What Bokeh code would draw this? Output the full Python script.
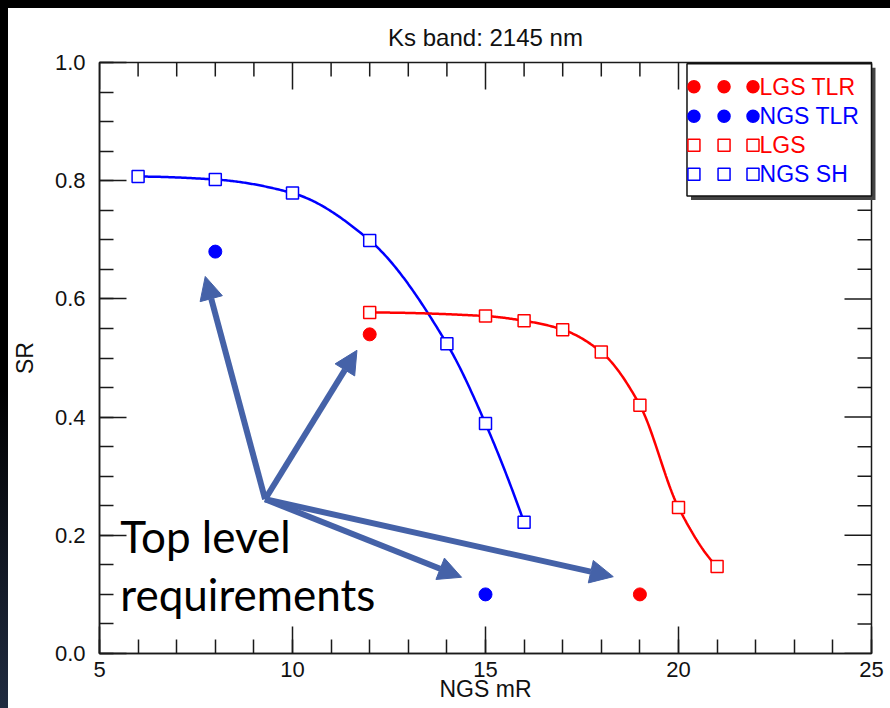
import numpy as np
from bokeh.plotting import figure
from bokeh.models import (Range1d, LinearAxis, SingleIntervalTicker, PrintfTickFormatter,
                          Arrow, NormalHead, Label, ColumnDataSource)
from bokeh.core.properties import value
from bokeh.embed import file_html
from bokeh.resources import INLINE

# ---------------- data ----------------
title = "Ks band: 2145 nm"
x_label = "NGS mR"
y_label = "SR"

ngs_sh_x = [6, 8, 10, 12, 14, 15, 16]
ngs_sh_y = [0.807, 0.802, 0.779, 0.699, 0.524, 0.389, 0.222]

lgs_x = [12, 15, 16, 17, 18, 19, 20, 21]
lgs_y = [0.577, 0.571, 0.563, 0.548, 0.510, 0.420, 0.247, 0.147]

lgs_tlr_x = [12, 19]
lgs_tlr_y = [0.54, 0.10]

ngs_tlr_x = [8, 15]
ngs_tlr_y = [0.68, 0.10]

legend_labels = ["LGS TLR", "NGS TLR", "LGS", "NGS SH"]
legend_colors = ["#ff0000", "#0000ff", "#ff0000", "#0000ff"]
legend_markers = ["circle", "circle", "square", "square"]

note_text = ["Top level", "requirements"]

# ---------------- layout constants ----------------
RED = "#ff0000"
BLUE = "#0000ff"
ARROW_C = "#4562a8"
AX_C = "#1a1a1a"
FONT = "Liberation Sans"
X0, X1, Y0, Y1 = 5, 25, 0.0, 1.0

# arrow annotations (start -> tip), in data units
arrow_start = (9.29, 0.261)
arrow_tips = [(7.74, 0.638), (11.67, 0.513), (14.38, 0.129), (18.31, 0.130)]

# legend layout (data units)
leg_left, leg_right, leg_top, leg_bottom = 20.22, 25.0, 0.998, 0.774
leg_marker_x = [20.40, 21.18, 21.93]
leg_text_x = 22.10
leg_row_y = [0.959, 0.909, 0.860, 0.811]


def pchip(x, y, n=300):
    x = np.asarray(x, float)
    y = np.asarray(y, float)
    h = np.diff(x)
    d = np.diff(y) / h
    m = np.zeros_like(y)
    for k in range(1, len(x) - 1):
        if d[k - 1] * d[k] <= 0:
            m[k] = 0.0
        else:
            w1 = 2 * h[k] + h[k - 1]
            w2 = h[k] + 2 * h[k - 1]
            m[k] = (w1 + w2) / (w1 / d[k - 1] + w2 / d[k])
    m[0] = ((2 * h[0] + h[1]) * d[0] - h[0] * d[1]) / (h[0] + h[1])
    if np.sign(m[0]) != np.sign(d[0]):
        m[0] = 0
    m[-1] = ((2 * h[-1] + h[-2]) * d[-1] - h[-1] * d[-2]) / (h[-1] + h[-2])
    if np.sign(m[-1]) != np.sign(d[-1]):
        m[-1] = 0
    xs = np.linspace(x[0], x[-1], n)
    idx = np.clip(np.searchsorted(x, xs) - 1, 0, len(x) - 2)
    t = (xs - x[idx]) / h[idx]
    h00 = 2 * t**3 - 3 * t**2 + 1
    h10 = t**3 - 2 * t**2 + t
    h01 = -2 * t**3 + 3 * t**2
    h11 = t**3 - t**2
    ys = h00 * y[idx] + h10 * h[idx] * m[idx] + h01 * y[idx + 1] + h11 * h[idx] * m[idx + 1]
    return xs, ys


p = figure(width=882, height=700, output_backend="svg", toolbar_location=None,
           x_range=Range1d(X0, X1), y_range=Range1d(Y0, Y1),
           x_axis_location=None, y_axis_location=None)
p.min_border = 0
p.min_border_left = 89
p.min_border_right = 19
p.min_border_top = 54
p.min_border_bottom = 55
p.xgrid.visible = False
p.ygrid.visible = False
p.background_fill_color = "white"
p.border_fill_color = "white"
p.outline_line_color = AX_C
p.outline_line_width = 1.5

p.title.text = title
p.title.align = "center"
p.title.text_font = FONT
p.title.text_font_size = "24px"
p.title.text_font_style = "normal"
p.title.text_color = "#111111"
p.title.standoff = 23


def make_axis(kind, axis_label):
    if kind == "x":
        ticker = SingleIntervalTicker(interval=5, num_minor_ticks=5)
    else:
        ticker = SingleIntervalTicker(interval=0.2, num_minor_ticks=4)
    ax = LinearAxis(ticker=ticker)
    if kind == "y":
        ax.formatter = PrintfTickFormatter(format="%.1f")
    ax.axis_line_color = AX_C
    ax.axis_line_width = 1.5
    ax.major_tick_line_color = AX_C
    ax.major_tick_line_width = 1.5
    ax.minor_tick_line_color = AX_C
    ax.minor_tick_line_width = 1.5
    ax.major_tick_in = 27
    ax.major_tick_out = 0
    ax.minor_tick_in = 14
    ax.minor_tick_out = 0
    ax.major_label_text_font = FONT
    ax.major_label_text_color = "#111111"
    ax.major_label_text_font_size = "22px"
    ax.axis_label = axis_label
    ax.axis_label_text_font = FONT
    ax.axis_label_text_font_size = "23px"
    ax.axis_label_text_font_style = "normal"
    ax.axis_label_text_color = "#111111"
    return ax


xb = make_axis("x", x_label)
xb.major_label_standoff = 8
xb.axis_label_standoff = -4
p.add_layout(xb, "below")
yl = make_axis("y", y_label)
yl.major_label_standoff = 14
yl.axis_label_standoff = 14
p.add_layout(yl, "left")

# mirrored inward ticks on the top and right frame edges
x_major = np.arange(X0, X1 + 0.01, 5.0)
x_minor = np.array([v for v in np.arange(X0, X1 + 0.01, 1.0) if v % 5 != 0])
y_major = np.round(np.arange(Y0, Y1 + 0.001, 0.2), 3)
y_minor = np.array([v for v in np.round(np.arange(Y0, Y1 + 0.001, 0.05), 3)
                    if abs(v / 0.2 - round(v / 0.2)) > 1e-6])
p.ray(x=x_major, y=[Y1] * len(x_major), length=27, length_units="screen", angle=-np.pi / 2,
      line_color=AX_C, line_width=1.5)
p.ray(x=x_minor, y=[Y1] * len(x_minor), length=14, length_units="screen", angle=-np.pi / 2,
      line_color=AX_C, line_width=1.5)
p.ray(x=[X1] * len(y_major), y=y_major, length=27, length_units="screen", angle=np.pi,
      line_color=AX_C, line_width=1.5)
p.ray(x=[X1] * len(y_minor), y=y_minor, length=14, length_units="screen", angle=np.pi,
      line_color=AX_C, line_width=1.5)

# curves
bx, by = pchip(ngs_sh_x, ngs_sh_y)
p.line(bx, by, line_color=BLUE, line_width=2.5)
rx, ry = pchip(lgs_x, lgs_y)
p.line(rx, ry, line_color=RED, line_width=2.5)

# markers
p.scatter(ngs_sh_x, ngs_sh_y, marker="square", size=12, fill_color="white",
          line_color=BLUE, line_width=1.5)
p.scatter(lgs_x, lgs_y, marker="square", size=12, fill_color="white",
          line_color=RED, line_width=1.5)
p.scatter(lgs_tlr_x, lgs_tlr_y, marker="circle", size=13, fill_color=RED, line_color=RED)
p.scatter(ngs_tlr_x, ngs_tlr_y, marker="circle", size=13, fill_color=BLUE, line_color=BLUE)

# arrows
for (tx, ty) in arrow_tips:
    p.add_layout(Arrow(end=NormalHead(size=23, fill_color=ARROW_C, line_color=ARROW_C, line_width=1),
                       x_start=arrow_start[0], y_start=arrow_start[1], x_end=tx, y_end=ty,
                       line_color=ARROW_C, line_width=6))

# note text
p.add_layout(Label(x=5.54, y=0.198, text=note_text[0], text_font="Lato",
                   text_font_size="44px", text_color="black", text_baseline="alphabetic"))
p.add_layout(Label(x=5.54, y=0.100, text=note_text[1], text_font="Lato",
                   text_font_size="44px", text_color="black", text_baseline="alphabetic"))

# legend
dx = 4 / 38.7
dy = 4 / 591
p.quad(left=[leg_left + dx], right=[leg_right + dx], top=[leg_top - dy], bottom=[leg_bottom - dy],
       fill_color="#444444", line_color=None, level="overlay")
p.quad(left=[leg_left], right=[leg_right], top=[leg_top], bottom=[leg_bottom],
       fill_color="white", line_color="#111111", line_width=1.5, level="overlay")

lx, ly, lm, lfill, lline = [], [], [], [], []
for i, lab in enumerate(legend_labels):
    for mx in leg_marker_x:
        lx.append(mx)
        ly.append(leg_row_y[i])
        lm.append(legend_markers[i])
        lline.append(legend_colors[i])
        lfill.append(legend_colors[i] if legend_markers[i] == "circle" else "white")
src = ColumnDataSource(dict(x=lx, y=ly, m=lm, f=lfill, l=lline))
p.scatter("x", "y", marker="m", source=src, size=12, fill_color="f", line_color="l",
          line_width=1.5, level="overlay")
p.text(x=[leg_text_x] * len(legend_labels), y=leg_row_y, text=legend_labels,
       text_color=legend_colors, text_font=value(FONT), text_font_size="23px",
       text_baseline="middle", text_align="left", level="overlay")

html = file_html(p, INLINE, title="Ks band")
css = ("<style>html{overflow:hidden;background:"
       "linear-gradient(#000,#000) top left/100% 8px no-repeat,"
       "linear-gradient(#000 0%,#000 55%,#202b40 100%) top left/8px 100% no-repeat,"
       "#ffffff;} body{padding:8px 0 0 8px !important; overflow:hidden;}</style>")
html = html.replace("</head>", css + "</head>", 1)
open("out.html", "w").write(html)
